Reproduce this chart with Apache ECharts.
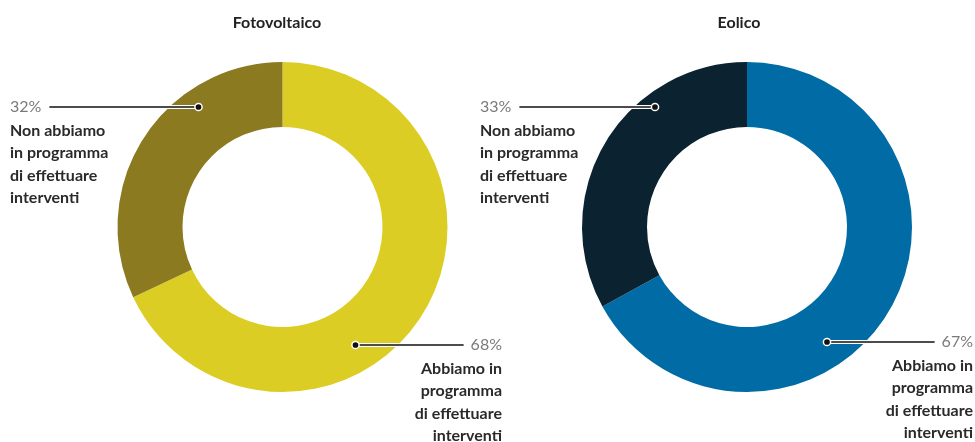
<!DOCTYPE html>
<html>
<head>
<meta charset="utf-8">
<script src="https://cdn.jsdelivr.net/npm/echarts@6/dist/echarts.min.js"></script>
<style>
html,body{margin:0;padding:0;background:#fff;}
#chart{width:975px;height:442px;}
</style>
</head>
<body>
<div id="chart"></div>
<script>
// ---- data ----
const chartTitles = ['Fotovoltaico', 'Eolico'];
const categories = [
  'Abbiamo in\nprogramma\ndi effettuare\ninterventi',
  'Non abbiamo\nin programma\ndi effettuare\ninterventi'
];
const fotovoltaicoValues = [68, 32];
const eolicoValues = [67, 33];

// ---- style / layout ----
const FONT = 'Lato, "Open Sans", sans-serif';
const palettes = [['#DCCD25', '#8B7A1F'], ['#006BA4', '#0B2230']];
const pies = [
  { cx: 282.5, cy: 227, titleX: 272, leftX: 10, rightX: 502, anchors: [[73, 118], [-84, -120]] },
  { cx: 747, cy: 227, titleX: 734, leftX: 480, rightX: 973, anchors: [[80, 115], [-92, -120]] }
];
const seriesValues = [fotovoltaicoValues, eolicoValues];

const mctx = document.createElement('canvas').getContext('2d');
function textW(t, font) { mctx.font = font; return mctx.measureText(t).width; }

function anchorOf(p, i) { return [p.cx + p.anchors[i][0], p.cy + p.anchors[i][1]]; }

// leader geometry: from the anchor on the ring to just before the percentage text
function leader(si, i) {
  const p = pies[si];
  const a = anchorOf(p, i);
  const w = textW(seriesValues[si][i] + '%', '16px ' + FONT);
  const left = a[0] < p.cx;
  const endX = left ? p.leftX + w + 8 : p.rightX - w - 7;
  return { a: a, endX: endX, left: left, top: a[1] - 12.5, x: left ? p.leftX : p.rightX };
}

function makeLayout(si) {
  return function (params) {
    const L = leader(si, params.dataIndex);
    return { x: L.x, y: L.top, align: L.left ? 'left' : 'right', verticalAlign: 'top' };
  };
}

const rich = {
  pL: { fontFamily: FONT, fontSize: 16, color: '#7a7a7a', lineHeight: 25, align: 'left' },
  tL: { fontFamily: FONT, fontSize: 16, fontWeight: 'bold', color: '#2a2a2a', lineHeight: 22.5, align: 'left' },
  pR: { fontFamily: FONT, fontSize: 16, color: '#7a7a7a', lineHeight: 25, align: 'right' },
  tR: { fontFamily: FONT, fontSize: 16, fontWeight: 'bold', color: '#2a2a2a', lineHeight: 22.5, align: 'right' }
};

const series = seriesValues.map(function (vals, si) {
  const p = pies[si];
  return {
    type: 'pie',
    center: [p.cx, p.cy],
    radius: [100, 165],
    startAngle: 90,
    clockwise: true,
    avoidLabelOverlap: false,
    silent: true,
    animation: false,
    itemStyle: { borderWidth: 0 },
    data: vals.map(function (v, i) {
      return { name: categories[i], value: v, itemStyle: { color: palettes[si][i] } };
    }),
    label: {
      show: true,
      position: 'outside',
      formatter: function (params) {
        const s = leader(si, params.dataIndex).left ? 'L' : 'R';
        return '{p' + s + '|' + params.value + '%}\n' +
          params.name.split('\n').map(function (l) { return '{t' + s + '|' + l + '}'; }).join('\n');
      },
      rich: rich
    },
    labelLine: { show: false },
    labelLayout: makeLayout(si)
  };
});

const titles = chartTitles.map(function (t, si) {
  return {
    text: t, left: pies[si].titleX, top: 10, textAlign: 'center',
    textStyle: { fontFamily: FONT, fontSize: 16, fontWeight: 'bold', color: '#222' }
  };
});

const guides = [];
seriesValues.forEach(function (vals, si) {
  vals.forEach(function (_, i) {
    const L = leader(si, i);
    const pts = [L.a, [L.endX, L.a[1]]];
    guides.push({ type: 'polyline', shape: { points: pts }, z: 98, silent: true,
      style: { stroke: '#ffffff', lineWidth: 4, fill: null } });
    guides.push({ type: 'polyline', shape: { points: pts }, z: 99, silent: true,
      style: { stroke: '#111111', lineWidth: 1.6, fill: null } });
    guides.push({ type: 'circle', shape: { cx: L.a[0], cy: L.a[1], r: 3.6 }, z: 100, silent: true,
      style: { fill: '#111', stroke: '#fff', lineWidth: 1.5 } });
  });
});

const chart = echarts.init(document.getElementById('chart'), null, { renderer: 'canvas' });
chart.setOption({
  backgroundColor: '#fff',
  animation: false,
  title: titles,
  series: series,
  graphic: guides
});
</script>
</body>
</html>
